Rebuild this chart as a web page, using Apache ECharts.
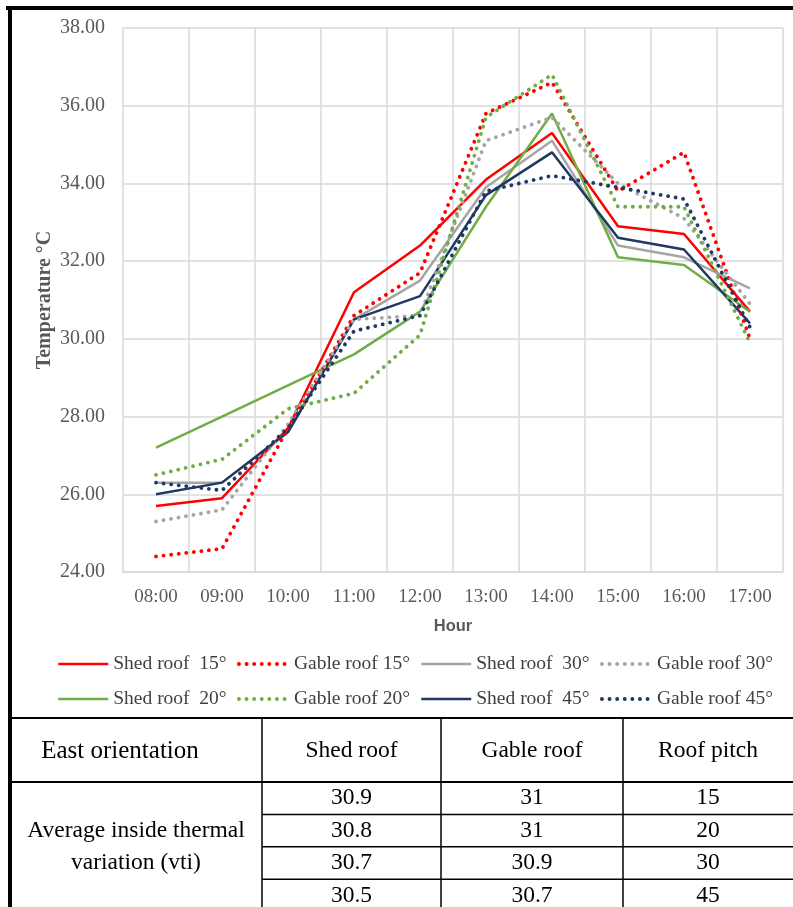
<!DOCTYPE html>
<html>
<head>
<meta charset="utf-8">
<script src="https://cdn.jsdelivr.net/npm/echarts@6/dist/echarts.min.js"></script>
<style>
html,body{margin:0;padding:0;background:#fff;}
#c{width:793px;height:907px;}
</style>
</head>
<body>
<div id="c"></div>
<script>
// ---- data ----
const hours = ['08:00','09:00','10:00','11:00','12:00','13:00','14:00','15:00','16:00','17:00'];
const shed15  = [25.7, 25.9, 27.7, 31.2, 32.4, 34.1, 35.3, 32.9, 32.7, 30.7];
const gable15 = [24.4, 24.6, 27.7, 30.6, 31.7, 35.8, 36.6, 33.8, 34.8, 30.0];
const shed30  = [26.3, 26.3, 27.6, 30.5, 31.5, 33.9, 35.1, 32.4, 32.1, 31.3];
const gable30 = [25.3, 25.6, 27.8, 30.5, 30.6, 35.1, 35.7, 34.0, 33.1, 30.9];
const shed20  = [27.2, 28.0, 28.8, 29.6, 30.7, 33.4, 35.8, 32.1, 31.9, 30.7];
const gable20 = [26.5, 26.9, 28.2, 28.6, 30.1, 35.7, 36.8, 33.4, 33.4, 29.9];
const shed45  = [26.0, 26.3, 27.6, 30.5, 31.1, 33.7, 34.8, 32.6, 32.3, 30.4];
const gable45 = [26.3, 26.1, 27.7, 30.2, 30.6, 33.8, 34.2, 33.9, 33.6, 30.3];

const seriesNames = ['Shed roof  15°','Gable roof 15°','Shed roof  30°','Gable roof 30°',
                     'Shed roof  20°','Gable roof 20°','Shed roof  45°','Gable roof 45°'];
const seriesData = [shed15, gable15, shed30, gable30, shed20, gable20, shed45, gable45];
const seriesColors = ['#FF0000','#FF0000','#A5A5A5','#A5A5A5','#70AD47','#70AD47','#1F3864','#1F3864'];
const seriesDotted = [false,true,false,true,false,true,false,true];

// table
const tableHeader = ['East orientation','Shed roof','Gable roof','Roof pitch'];
const tableRowLabel = ['Average inside thermal','variation (vti)'];
const tableShed  = ['30.9','30.8','30.7','30.5'];
const tableGable = ['31','31','30.9','30.7'];
const tablePitch = ['15','20','30','45'];

// ---- chart ----
const SERIF = "'Liberation Serif','Times New Roman',serif";
const chart = echarts.init(document.getElementById('c'));

function styleFor(i){
  return seriesDotted[i]
    ? {color: seriesColors[i], width: 3.8, type: [0.1, 7.5], cap: 'round'}
    : {color: seriesColors[i], width: 2.5, type: 'solid'};
}

const series = seriesNames.map((n,i)=>({
  name: n,
  type: 'line',
  data: seriesData[i],
  symbol: 'none',
  z: seriesDotted[i] ? 3 : 2,
  lineStyle: styleFor(i),
  itemStyle: {color: seriesColors[i]}
}));

// legends: 4 columns, 2 rows each
const colLeft = [57, 237, 420, 600];
const legends = colLeft.map((l,ci)=>({
  orient: 'vertical',
  left: l,
  top: 654,
  itemWidth: 50,
  itemHeight: 14,
  itemGap: 15,
  padding: 0,
  selectedMode: false,
  itemStyle: {opacity: 0},
  data: [ci, ci+4].map(k => ({
    name: seriesNames[k],
    lineStyle: Object.assign({}, styleFor(k), {width: seriesDotted[k] ? 3.8 : 2.5})
  })),
  textStyle: {fontFamily: SERIF, fontSize: 19.5, color: '#404040', lineHeight: 20}
}));

// table graphics
const colX = [10, 262, 441, 623, 793];
const headTop = 718, headBot = 782;
const rowH = 32.4;
const g = [];
function hline(x1,x2,y,w){ g.push({type:'line', shape:{x1:x1,y1:y,x2:x2,y2:y}, style:{stroke:'#000', lineWidth:w||1.5}, silent:true}); }
function vline(x,y1,y2,w){ g.push({type:'line', shape:{x1:x,y1:y1,x2:x,y2:y2}, style:{stroke:'#000', lineWidth:w||1.5}, silent:true}); }
function txt(cx,cy,s,sz){ g.push({type:'text', x:cx, y:cy, style:{text:s, fill:'#000', font:(sz||23.5)+"px 'Liberation Serif','Times New Roman',serif", textAlign:'center', textVerticalAlign:'middle'}, silent:true}); }

// outer border (top + left)
hline(6, 793, 8, 4);
vline(10, 6, 907, 4);
hline(10, 793, headTop, 2);
hline(10, 793, headBot, 2);
for (let i=1;i<4;i++) vline(colX[i], headTop, 907, 1.5);
for (let r=1;r<4;r++) hline(colX[1], 793, headBot + r*rowH, 1.5);
for (let i=0;i<4;i++) txt((colX[i]+colX[i+1])/2 + (i===0?-16:0), (headTop+headBot)/2 + 1, tableHeader[i], i===0 ? 25 : 23.5);
txt(136, headBot + rowH*1.5, tableRowLabel[0]);
txt(136, headBot + rowH*2.5, tableRowLabel[1]);
for (let r=0;r<4;r++){
  const cy = headBot + rowH*(r+0.5);
  txt((colX[1]+colX[2])/2, cy, tableShed[r]);
  txt((colX[2]+colX[3])/2, cy, tableGable[r]);
  txt((colX[3]+colX[4])/2, cy, tablePitch[r]);
}

chart.setOption({
  backgroundColor: '#fff',
  animation: false,
  grid: {left: 123, right: 10, top: 28, bottom: 335, containLabel: false},
  legend: legends,
  xAxis: {
    type: 'category',
    data: hours,
    boundaryGap: true,
    name: 'Hour',
    nameLocation: 'middle',
    nameGap: 46,
    nameTextStyle: {fontFamily: "'Liberation Sans','Open Sans',sans-serif", fontWeight: 'bold', fontSize: 16.5, color: '#595959'},
    axisLine: {show: true, lineStyle: {color: '#D9D9D9', width: 1.5}},
    axisTick: {show: false},
    axisLabel: {fontFamily: SERIF, fontSize: 19, color: '#595959', margin: 16, interval: 0},
    splitLine: {show: true, lineStyle: {color: '#D9D9D9', width: 1.5}}
  },
  yAxis: {
    type: 'value',
    min: 24, max: 38, interval: 2,
    name: 'Temperature °C',
    nameLocation: 'middle',
    nameGap: 78,
    nameMoveOverlap: false,
    nameRotate: 90,
    nameTextStyle: {fontFamily: SERIF, fontWeight: 'bold', fontSize: 20, color: '#595959', align: 'center', verticalAlign: 'middle'},
    axisLine: {show: false},
    axisTick: {show: false},
    axisLabel: {fontFamily: SERIF, fontSize: 20, color: '#595959', margin: 18, formatter: v => v.toFixed(2)},
    splitLine: {show: true, lineStyle: {color: '#D9D9D9', width: 1.5}}
  },
  series: series,
  graphic: g
});
</script>
</body>
</html>
